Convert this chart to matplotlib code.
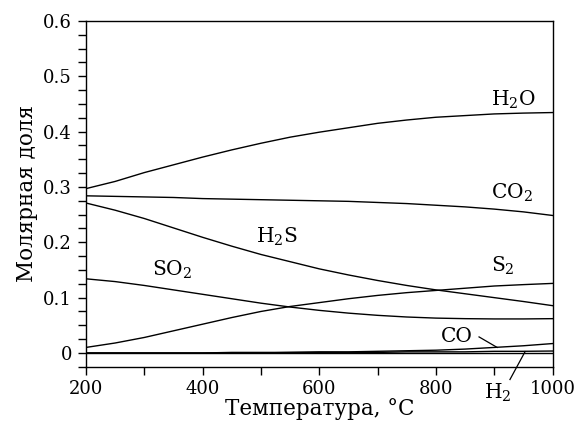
import matplotlib
matplotlib.use("Agg")
import matplotlib.pyplot as plt
import matplotlib.ticker as ticker

plt.rcParams["font.family"] = "DejaVu Serif"
plt.rcParams["mathtext.fontset"] = "dejavuserif"

# equilibrium gas composition vs temperature
temps = [200, 250, 300, 350, 400, 450, 500, 550, 600,
         650, 700, 750, 800, 850, 900, 950, 1000]

h2o = [0.297, 0.310, 0.326, 0.340, 0.354, 0.367, 0.379, 0.390, 0.399,
       0.407, 0.415, 0.421, 0.426, 0.429, 0.432, 0.4335, 0.4345]
co2 = [0.284, 0.283, 0.282, 0.281, 0.279, 0.278, 0.277, 0.276, 0.275,
       0.274, 0.272, 0.270, 0.267, 0.264, 0.260, 0.255, 0.2485]
h2s = [0.271, 0.258, 0.243, 0.226, 0.209, 0.193, 0.178, 0.165, 0.152,
       0.141, 0.131, 0.122, 0.114, 0.107, 0.100, 0.093, 0.0855]
so2 = [0.134, 0.129, 0.122, 0.114, 0.106, 0.098, 0.090, 0.083, 0.077,
       0.072, 0.068, 0.065, 0.063, 0.062, 0.0615, 0.0615, 0.062]
s2 = [0.010, 0.018, 0.028, 0.040, 0.052, 0.064, 0.075, 0.084, 0.091,
      0.098, 0.104, 0.109, 0.113, 0.117, 0.121, 0.1235, 0.1257]
co = [0.000, 0.000, 0.000, 0.000, 0.000, 0.001, 0.001, 0.001, 0.002,
      0.002, 0.003, 0.004, 0.005, 0.007, 0.010, 0.013, 0.017]
h2 = [0.000, 0.000, 0.000, 0.000, 0.000, 0.000, 0.000, 0.001, 0.001,
      0.001, 0.001, 0.002, 0.002, 0.002, 0.003, 0.003, 0.0035]

ytick_labels = ["0", "0.1", "0.2", "0.3", "0.4", "0.5", "0.6"]

fig = plt.figure(figsize=(5.81, 4.28), dpi=100)
ax = fig.add_axes([0.148, 0.143, 0.803, 0.808])

for series in (h2o, co2, h2s, so2, s2, co, h2):
    ax.plot(temps, series, color="black", lw=1.0)
ax.axhline(0, color="black", lw=1.0)

fs = 13
lfs = 14.5
ax.text(932, 0.457, r"H$_2$O", fontsize=lfs, ha="center", va="center")
ax.text(930, 0.289, r"CO$_2$", fontsize=lfs, ha="center", va="center")
ax.text(527, 0.209, r"H$_2$S", fontsize=lfs, ha="center", va="center")
ax.text(347, 0.150, r"SO$_2$", fontsize=lfs, ha="center", va="center")
ax.text(915, 0.158, r"S$_2$", fontsize=lfs, ha="center", va="center")
ax.text(836, 0.030, "CO", fontsize=lfs, ha="center", va="center")
ax.plot([874, 905], [0.029, 0.010], color="black", lw=0.9)
ax.text(906, -0.072, r"H$_2$", fontsize=lfs, ha="center", va="center",
        clip_on=False)
ax.plot([927, 953], [-0.048, 0.0025], color="black", lw=0.9, clip_on=False)

ax.set_xlim(200, 1000)
ax.set_ylim(-0.025, 0.6)
ax.xaxis.set_major_locator(ticker.MultipleLocator(200))
ax.xaxis.set_minor_locator(ticker.MultipleLocator(100))
ax.set_yticks([i / 10 for i in range(7)])
ax.set_yticklabels(ytick_labels)
ax.yaxis.set_minor_locator(ticker.MultipleLocator(0.025))

ax.tick_params(which="both", direction="out", length=5.5, width=1.0,
               labelsize=fs, top=False, right=False)
ax.tick_params(axis="y", which="both", pad=4.5)
ax.tick_params(axis="x", which="both", pad=4)
for spine in ax.spines.values():
    spine.set_linewidth(1.0)

ax.set_xlabel("Температура, °C", fontsize=15.5, labelpad=0)
ax.set_ylabel("Молярная доля", fontsize=15.5, labelpad=4)

fig.savefig("out.png", dpi=100)
